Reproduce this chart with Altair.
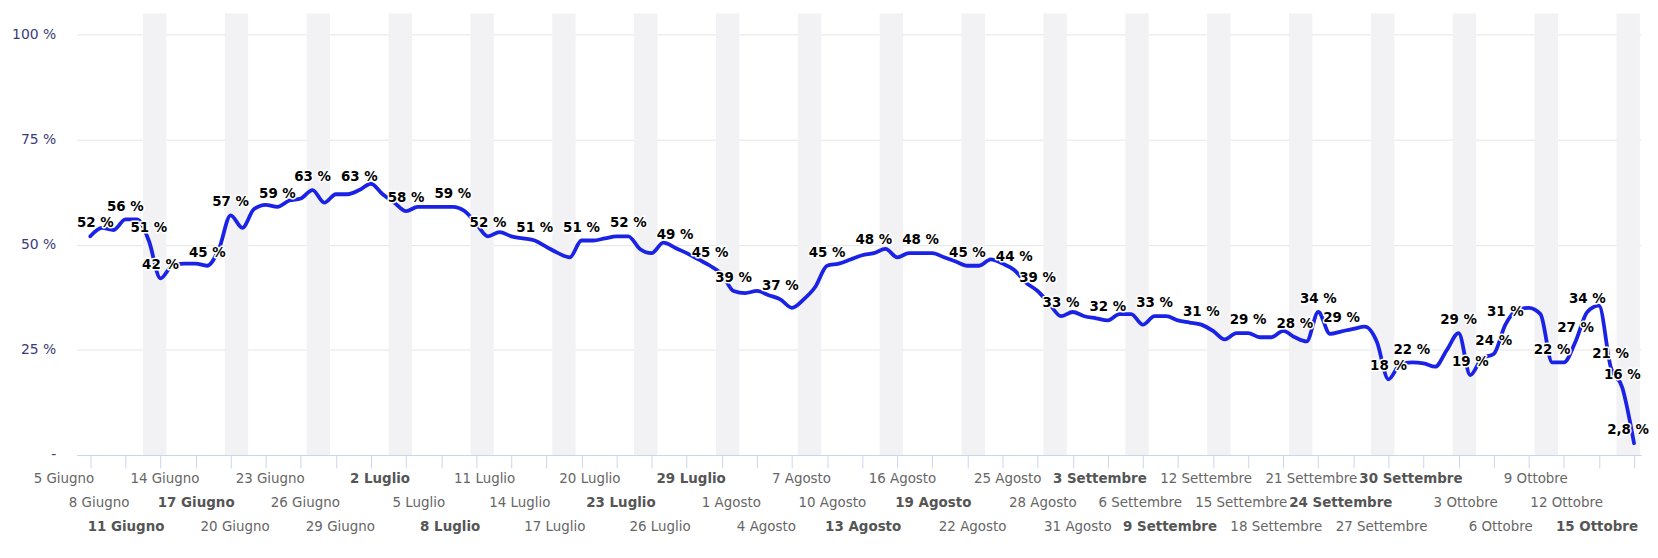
import altair as alt
import pandas as pd

# ---- data -------------------------------------------------------------
start_date = "2023-06-05"

values = [
    52, 54, 53.5, 56, 56, 51, 42, 45, 45.5, 45.5,
    45, 49, 57, 54, 58.5, 59.5, 59, 60.5, 61, 63,
    60, 62, 62, 63, 64.5, 62, 60, 58, 59, 59,
    59, 59, 58, 55, 52, 53, 52, 51.5, 51, 49.5,
    48, 47, 51, 51, 51.5, 52, 52, 49, 48, 50.5,
    49.3, 48, 46.5, 45, 43, 39, 38.5, 39, 38, 37,
    35, 37, 40, 45, 45.5, 46.5, 47.5, 48, 49, 47,
    48, 48, 48, 47, 46, 45, 45, 46.5, 45.5, 44,
    41, 39, 36, 33, 34, 33, 32.5, 32, 33.5, 33.5,
    31, 33, 33, 32, 31.5, 31, 29.5, 27.5, 29, 29,
    28, 28, 29.5, 28, 27, 34, 28.8, 29.4, 30, 30.5,
    27, 18, 21.5, 22, 21.8, 21, 25, 29, 19, 23,
    24, 31, 34.5, 35, 33.5, 22, 22, 27, 34, 35.5,
    21, 16, 2.8,
]

label_days = [0, 3, 5, 6, 10, 12, 16, 19, 23, 27, 31, 34, 38, 42, 46, 50, 53,
              55, 59, 63, 67, 71, 75, 79, 81, 83, 87, 91, 95, 99, 103, 105,
              107, 111, 113, 117, 118, 120, 121, 125, 127, 128, 130, 131, 132]
label_texts = ["52 %", "56 %", "51 %", "42 %", "45 %", "57 %", "59 %", "63 %",
               "63 %", "58 %", "59 %", "52 %", "51 %", "51 %", "52 %", "49 %",
               "45 %", "39 %", "37 %", "45 %", "48 %", "48 %", "45 %", "44 %",
               "39 %", "33 %", "32 %", "33 %", "31 %", "29 %", "28 %", "34 %",
               "29 %", "18 %", "22 %", "29 %", "19 %", "24 %", "31 %", "22 %",
               "27 %", "34 %", "21 %", "16 %", "2,8 %"]

tick_labels = ["5 Giugno", "8 Giugno", "11 Giugno", "14 Giugno", "17 Giugno",
               "20 Giugno", "23 Giugno", "26 Giugno", "29 Giugno", "2 Luglio",
               "5 Luglio", "8 Luglio", "11 Luglio", "14 Luglio", "17 Luglio",
               "20 Luglio", "23 Luglio", "26 Luglio", "29 Luglio", "1 Agosto",
               "4 Agosto", "7 Agosto", "10 Agosto", "13 Agosto", "16 Agosto",
               "19 Agosto", "22 Agosto", "25 Agosto", "28 Agosto", "31 Agosto",
               "3 Settembre", "6 Settembre", "9 Settembre", "12 Settembre",
               "15 Settembre", "18 Settembre", "21 Settembre", "24 Settembre",
               "27 Settembre", "30 Settembre", "3 Ottobre", "6 Ottobre",
               "9 Ottobre", "12 Ottobre", "15 Ottobre"]
tick_step = 3

y_ticks = [0, 25, 50, 75, 100]

# ---- tables -------------------------------------------------------------
dates = pd.date_range(start_date, periods=len(values), freq="D")
df = pd.DataFrame({"day": range(len(values)), "value": values})

lab = pd.DataFrame({"day": label_days,
                    "value": [values[d] for d in label_days],
                    "text": label_texts})
lab_mid = lab.iloc[1:-1]
lab_first = lab.iloc[:1]
lab_last = lab.iloc[-1:]

sat_days = [i for i, d in enumerate(dates) if d.weekday() == 5]
bands = pd.DataFrame({"start": [d - 0.5 for d in sat_days],
                      "end": [d + 1.5 for d in sat_days]})

tick_days = [i * tick_step for i in range(len(tick_labels))]
ticks_df = pd.DataFrame({
    "day": tick_days,
    "label": tick_labels,
    "weekend": [dates[d].weekday() >= 5 for d in tick_days],
    "row": [i % 3 for i in range(len(tick_labels))],
})

FONT = "DejaVu Sans"
x_scale = alt.Scale(domain=[-1.17, 132.6], nice=False, zero=False)
y_scale = alt.Scale(domain=[0, 105], nice=False)

x_axis = alt.Axis(values=tick_days, labels=False, grid=False,
                  tickSize=13, tickColor="#ccd6eb", domainColor="#ccd6eb",
                  title=None)
y_axis = alt.Axis(values=y_ticks,
                  labelExpr="datum.value == 0 ? '-' : datum.value + ' %'",
                  grid=True, gridColor="#e6e6e6", domain=False, ticks=False,
                  labelColor="#3b3b78", labelFont=FONT, labelFontSize=14,
                  labelPadding=21, minExtent=69, maxExtent=69, title=None)

X_day = alt.X("day:Q", scale=x_scale, axis=x_axis)
Y_val = alt.Y("value:Q", scale=y_scale, axis=y_axis)

band_layer = alt.Chart(bands).mark_rect(color="#f2f2f5").encode(
    x=alt.X("start:Q", scale=x_scale, axis=x_axis),
    x2="end:Q",
)

line_layer = alt.Chart(df).mark_line(
    color="#1a22e6", strokeWidth=3.8, interpolate="monotone",
    strokeCap="round", strokeJoin="round"
).encode(x=X_day, y=Y_val)


def text_layers(data, dx):
    halo = alt.Chart(data).mark_text(
        font=FONT, fontSize=13.5, fontWeight="bold", baseline="alphabetic",
        dy=-9, dx=dx, stroke="white", strokeWidth=3, strokeJoin="round",
        color="white").encode(x=X_day, y=Y_val, text="text:N")
    txt = alt.Chart(data).mark_text(
        font=FONT, fontSize=13.5, fontWeight="bold", baseline="alphabetic",
        dy=-9, dx=dx, color="#000000").encode(x=X_day, y=Y_val, text="text:N")
    return [halo, txt]


# x tick labels: rotation is not rendered here, so the labels are staggered
# over three rows, each right-aligned at its tick
def tick_layers():
    out = []
    for row in range(3):
        for wk, weight, color in ((False, "normal", "#666666"),
                                  (True, "bold", "#555555")):
            sub = ticks_df[(ticks_df["row"] == row) & (ticks_df["weekend"] == wk)]
            if len(sub) == 0:
                continue
            out.append(alt.Chart(sub).mark_text(
                font=FONT, fontSize=13.5, fontWeight=weight,
                align="right", baseline="top", dx=4, dy=17 + 24 * row,
                color=color
            ).encode(x=X_day, y=alt.datum(0, scale=y_scale), text="label:N"))
    return out


layers = ([band_layer, line_layer] + text_layers(lab_mid, 0)
          + text_layers(lab_first, 5) + text_layers(lab_last, -6)
          + tick_layers())

chart = alt.layer(*layers).properties(
    width=1573, height=444,
    padding={"left": 0, "top": 4, "right": 0, "bottom": 0},
).configure_view(strokeWidth=0)

chart.save("out.html", embed_options={"renderer": "svg", "actions": False})
